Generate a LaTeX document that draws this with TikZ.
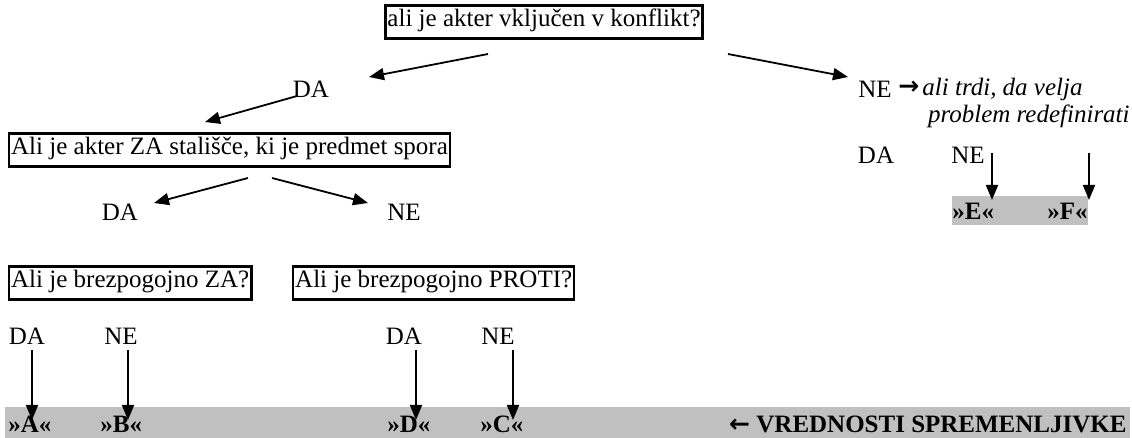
\documentclass[tikz,border=0pt]{standalone}
\usepackage{fontspec}
\setmainfont{Liberation Serif}
\newfontfamily\arrowfont{DejaVu Sans}
\usetikzlibrary{arrows.meta}
\definecolor{bandgray}{RGB}{192,192,192}
\begin{document}
\begin{tikzpicture}[x=0.5pt,y=-0.5pt,
  every node/.style={font=\fontsize{12.5}{15}\selectfont, inner sep=0pt},
  qbox/.style={draw, line width=1.2pt, inner xsep=1pt, inner ysep=3.5pt, text height=0.72em, text depth=0.24em},
  lbl/.style={},
  val/.style={font=\fontsize{12.5}{15}\selectfont\bfseries},
  arr/.style={line width=0.9pt, -{Triangle[length=7.5pt,width=6pt]}},
  band/.style={fill=bandgray, draw=none}]
\useasboundingbox (0,0) rectangle (1132,438);
% gray bands
\fill[bandgray] (5,407) rectangle (1130,438);
\fill[bandgray] (952,196) rectangle (1088,225);
% question boxes
\node[qbox] (q1) at (544,22) {ali je akter vključen v konflikt?};
\node[qbox, anchor=west] (q2) at (8,150) {Ali je akter ZA stališče, ki je predmet spora};
\node[qbox, anchor=west] (q3) at (8,283) {Ali je brezpogojno ZA?};
\node[qbox, anchor=west] (q4) at (292,283) {Ali je brezpogojno PROTI?};
% answers
\node[lbl] (da1) at (311,89) {DA};
\node[lbl, anchor=west] (ne1) at (858,89) {NE};
\node[anchor=west] (arrg) at (898,88) {\arrowfont\bfseries →};
\node[anchor=west] (it1) at (922,89) {\itshape ali trdi, da velja};
\node[anchor=east] (it2) at (1130,116) {\itshape problem redefinirati};
\node[lbl] (da2) at (876,155) {DA};
\node[lbl] (ne2) at (968,155) {NE};
\node[lbl] (da3) at (120,212) {DA};
\node[lbl] (ne3) at (404,212) {NE};
\node[lbl] (da4) at (27,336) {DA};
\node[lbl] (ne4) at (121,336) {NE};
\node[lbl] (da5) at (404,336) {DA};
\node[lbl] (ne5) at (498,336) {NE};
% values
\node[val, anchor=west] (vA) at (8,424) {»A«};
\node[val, anchor=west] (vB) at (100,424) {»B«};
\node[val, anchor=west] (vD) at (387,424) {»D«};
\node[val, anchor=west] (vC) at (480,424) {»C«};
\node[val, anchor=east] (vr) at (1127,424) {{\arrowfont\bfseries ←} VREDNOSTI SPREMENLJIVKE};
\node[val, anchor=west] (vE) at (952,211) {»E«};
\node[val, anchor=west] (vF) at (1047,211) {»F«};
% connector end points
\coordinate (s1) at (488,54);  \coordinate (t1) at (369,77);
\coordinate (s2) at (728,54);  \coordinate (t2) at (848,77);
\coordinate (s3) at (297,96);  \coordinate (t3) at (205,122);
\coordinate (s4) at (248,178); \coordinate (t4) at (154,203);
\coordinate (s5) at (272,178); \coordinate (t5) at (368,203);
\coordinate (s6) at (32,350);  \coordinate (t6) at (32,420);
\coordinate (s7) at (128,350); \coordinate (t7) at (128,420);
\coordinate (s8) at (416,350); \coordinate (t8) at (416,420);
\coordinate (s9) at (513,350); \coordinate (t9) at (513,420);
\coordinate (s10) at (992,153); \coordinate (t10) at (992,200);
\coordinate (s11) at (1089,153); \coordinate (t11) at (1089,200);
\foreach \i in {1,...,11} \draw[arr] (s\i) -- (t\i);
\end{tikzpicture}
\end{document}
